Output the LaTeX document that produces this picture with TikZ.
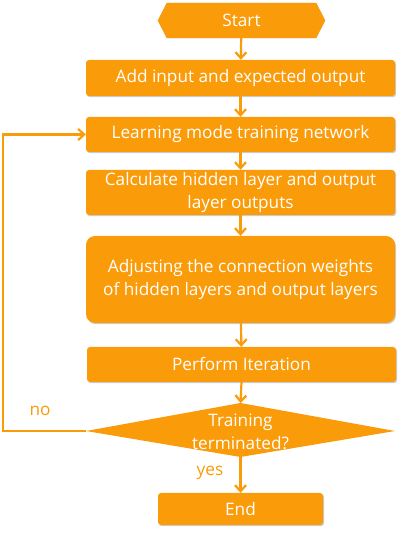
\documentclass[tikz,border=0pt]{standalone}
\usepackage{fontspec}
\setmainfont{Open Sans}
\usetikzlibrary{arrows.meta,shadows,backgrounds,calc}
\definecolor{orng}{RGB}{250,155,10}
\tikzset{
  box/.style={fill=orng, rounded corners=3pt, text=white, align=center, inner sep=2pt,
    minimum width=309pt, drop shadow={shadow xshift=1pt, shadow yshift=-1.2pt, fill=black!45, opacity=0.45}},
  flow/.style={draw=orng, line width=2.2pt, -{Straight Barb[length=6pt,width=11pt,line width=2.2pt]}},
  lbl/.style={text=orng, inner sep=0pt},
  every node/.style={font=\fontsize{17.2}{23}\selectfont}
}
\begin{document}
\begin{tikzpicture}[x=1pt,y=1pt]
\useasboundingbox (0,0) rectangle (401,533);
% start hexagon
\node[minimum width=167pt, minimum height=35pt, inner sep=0pt, text=white] (start) at (241.5,512.5) {Start};
\begin{scope}[on background layer]
\fill[black!45, opacity=0.45, shift={(1pt,-1.2pt)}] (start.west) -- ([xshift=9pt]start.north west) -- ([xshift=-9pt]start.north east) -- (start.east) -- ([xshift=-9pt]start.south east) -- ([xshift=9pt]start.south west) -- cycle;
\fill[orng] (start.west) -- ([xshift=9pt]start.north west) -- ([xshift=-9pt]start.north east) -- (start.east) -- ([xshift=-9pt]start.south east) -- ([xshift=9pt]start.south west) -- cycle;
\end{scope}
\node[box, minimum height=36pt] (b1) at (240.5,455) {Add input and expected output};
\node[box, minimum height=35pt] (b2) at (240.5,398.5) {Learning mode training network};
\node[box, minimum height=45pt] (b3) at (240.5,340.5) {Calculate hidden layer and output\\layer outputs};
\node[box, minimum height=87pt, rounded corners=9pt] (b4) at (240.5,253.5) {Adjusting the connection weights\\of hidden layers and output layers};
\node[box, minimum height=35pt] (b5) at (241.5,168.5) {Perform Iteration};
% diamond
\coordinate (dc) at (240.5,102);
\coordinate (dw) at (86,102);
\coordinate (de) at (395,102);
\coordinate (dn) at (240.5,130);
\coordinate (ds) at (240.5,76);
\fill[orng] (dw) -- (dn) -- (de) -- (ds) -- cycle;
\node[text=white, align=center, inner sep=0pt] (dt) at (240.5,101) {Training\\terminated?};
\node[box, minimum width=165pt, minimum height=32pt] (end) at (240.5,24) {End};
% connectors
\draw[flow] (start) -- (b1);
\draw[flow] (b1) -- (b2);
\draw[flow] (b2) -- (b3);
\draw[flow] (b3) -- (b4);
\draw[flow] (b4) -- (b5);
\draw[flow] (b5.south) -- (dn);
\draw[flow] (ds) -- (end.north);
\coordinate (lc1) at (3,102);
\coordinate (lc2) at (3,398.5);
\draw[flow] (dw) -- (lc1) -- (lc2) -- (b2.west);
\node[lbl] (no) at (40,122) {no};
\node[lbl] (yes) at (210,60) {yes};
\end{tikzpicture}
\end{document}
